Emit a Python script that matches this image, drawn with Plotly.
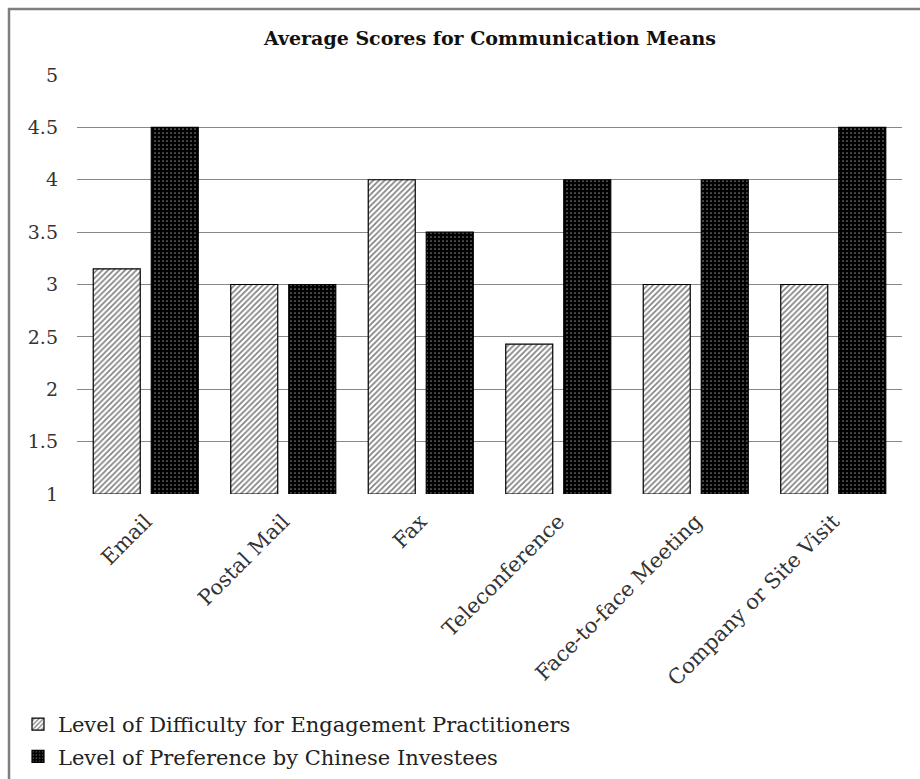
import plotly.graph_objects as go

categories = ["Email", "Postal Mail", "Fax", "Teleconference", "Face-to-face Meeting", "Company or Site Visit"]
difficulty = [3.15, 3.0, 4.0, 2.43, 3.0, 3.0]
preference = [4.5, 3.0, 3.5, 4.0, 4.0, 4.5]
series_names = ["Level of Difficulty for Engagement Practitioners",
                "Level of Preference by Chinese Investees"]
y_ticks = [1, 1.5, 2, 2.5, 3, 3.5, 4, 4.5, 5]

FONT = "DejaVu Serif"
W, H = 920, 779
L, R, T, B = 77, 18, 75, 285
pw, ph = W - L - R, H - T - B

def px_x(p):
    return (p - L) / pw

def px_y(p):
    return (H - B - p) / ph

fig = go.Figure()
fig.add_trace(go.Bar(
    x=categories, y=[v - 1 for v in difficulty], base=1, name=series_names[0],
    legendgroup="a",
    marker=dict(color="white", line=dict(color="black", width=1.2),
                pattern=dict(shape="/", fgcolor="black", bgcolor="white",
                             size=4, solidity=0.4, fillmode="overlay")),
))
fig.add_trace(go.Bar(
    x=categories, y=[v - 1 for v in preference], base=1, name=series_names[1],
    legendgroup="b",
    marker=dict(color="black", line=dict(color="black", width=1.2),
                pattern=dict(shape=".", fgcolor="white", bgcolor="black",
                             size=4, solidity=0.15, fillmode="overlay")),
))

fig.update_layout(
    width=W, height=H,
    margin=dict(l=L, r=R, t=T, b=B, autoexpand=False),
    paper_bgcolor="white", plot_bgcolor="white",
    barmode="group", bargap=0.156, bargroupgap=0.19,
    font=dict(family=FONT, color="#222222", size=18),
    title=dict(text="<b>Average Scores for Communication Means</b>",
               x=490 / W, xanchor="center",
               y=1 - 38 / H, yanchor="middle",
               font=dict(family=FONT, size=19, color="#111111")),
    legend=dict(x=px_x(18), xanchor="left", y=px_y(704), yanchor="top",
                orientation="v", traceorder="grouped", tracegroupgap=2,
                font=dict(family=FONT, size=21, color="#222222"),
                bgcolor="rgba(0,0,0,0)", itemwidth=30),
    xaxis=dict(tickangle=-45, showgrid=False, showline=False, ticks="",
               automargin=False, ticklabelstandoff=10,
               tickfont=dict(family=FONT, size=21, color="#333333")),
    yaxis=dict(range=[1, 5], tickvals=y_ticks,
               ticktext=[("%g" % v) for v in y_ticks],
               showgrid=True, gridcolor="#888888", gridwidth=1,
               zeroline=False, showline=False, ticks="", ticklabelstandoff=18,
               automargin=False,
               tickfont=dict(family=FONT, size=19, color="#333333")),
    shapes=[dict(type="rect", xref="paper", yref="paper",
                 x0=px_x(9), y0=px_y(H + 50), x1=px_x(W + 50), y1=px_y(9),
                 line=dict(color="#7f7f7f", width=2.5), fillcolor="rgba(0,0,0,0)",
                 layer="below")],
)

fig.write_html("out.html")
